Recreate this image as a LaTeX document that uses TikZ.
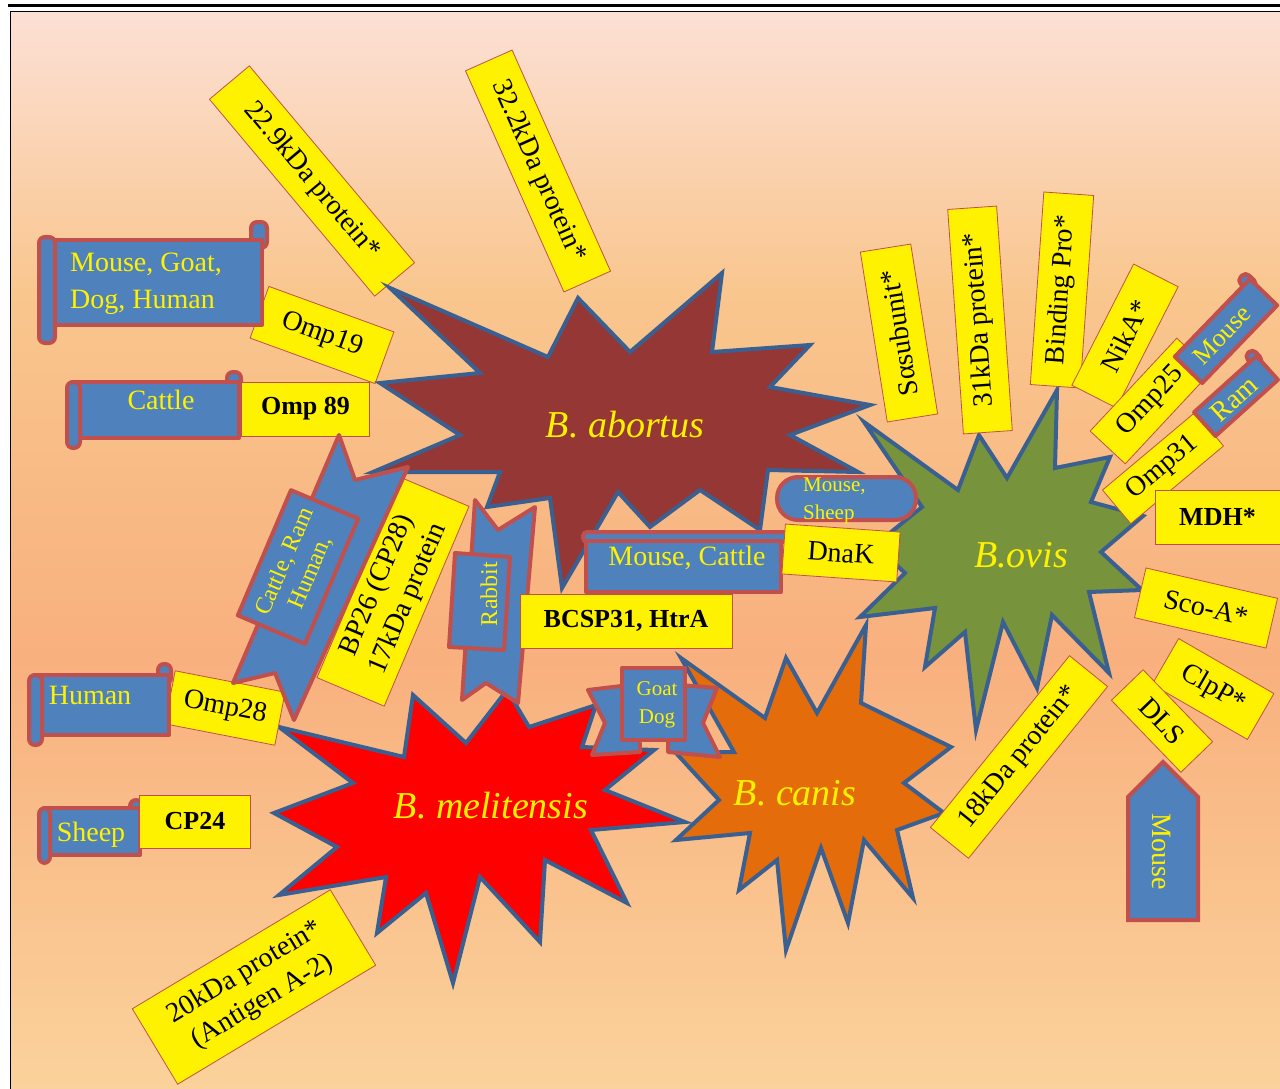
\documentclass[tikz,border=0pt]{standalone}
\usepackage{fontspec}
\setmainfont{Liberation Serif}

\definecolor{bgtop}{RGB}{252,224,213}
\definecolor{bgupper}{RGB}{249,198,142}
\definecolor{bgmid}{RGB}{248,176,126}
\definecolor{bgbot}{RGB}{251,210,155}
\definecolor{burstline}{RGB}{58,96,146}
\definecolor{abortusfill}{RGB}{149,55,53}
\definecolor{ovisfill}{RGB}{119,147,60}
\definecolor{melifill}{RGB}{255,0,0}
\definecolor{canisfill}{RGB}{228,108,10}
\definecolor{hostblue}{RGB}{79,129,189}
\definecolor{hostred}{RGB}{192,80,77}

\pgfdeclareverticalshading{bgfade}{100bp}{color(0bp)=(bgbot); color(25bp)=(bgbot); color(45bp)=(bgmid); color(62bp)=(bgupper); color(75bp)=(bgtop); color(100bp)=(bgtop)}

\tikzset{
  burst/.style={draw=burstline, line width=4pt, line join=miter, miter limit=12},
  burstlabel/.style={text=yellow, inner sep=0pt, font=\fontsize{38}{40}\selectfont\itshape},
  protein/.style={draw=hostred, line width=0.8pt, fill=yellow, inner sep=2pt, align=center, font=\fontsize{28}{34}\selectfont},
  boldprotein/.style={protein, font=\fontsize{26}{30}\selectfont\bfseries},
  host/.style={draw=hostred, line width=4pt, fill=hostblue, line join=round},
  hostlabel/.style={text=yellow, inner sep=0pt, align=left, font=\fontsize{28}{37}\selectfont},
  smallhost/.style={hostlabel, font=\fontsize{21}{28}\selectfont},
}

\begin{document}
\begin{tikzpicture}[x=1pt,y=-1pt]
\useasboundingbox (0,0) rectangle (1280,1089);
\fill[white] (0,0) rectangle (1280,1089);
\shade[shading=bgfade] (10,12) rectangle (1280,1089);
\draw[line width=3pt] (8,5.5) -- (1280,5.5);
\draw[line width=1pt] (10,12) -- (1280,12) (10,12) -- (10,1089);

% proteins above B. abortus
\node[protein, rotate=-50, minimum width=257pt, minimum height=52pt] (kda229) at (312,181) {22.9kDa protein*};
\node[protein, rotate=-66, minimum width=242pt, minimum height=51pt] (kda322) at (538,171) {32.2kDa protein*};
\node[protein, rotate=-20, minimum width=133pt, minimum height=55pt] (omp19) at (322,335) {Omp19};

% scroll Mouse, Goat, Dog, Human
\draw[host, rounded corners=6pt] (251,222) rectangle (267,248);
\draw[host] (48,240) rectangle (262,325);
\draw[host, rounded corners=6pt] (39,237) rectangle (55,343);
\node[hostlabel, anchor=west] (hmgdh) at (70,284) {Mouse, Goat,\\Dog, Human};

% the four bursts
\draw[burst, fill=canisfill] (681,658) -- (765,718) -- (786,658) -- (817,713) -- (866,625) -- (861,703)
  -- (951,747) -- (904,783) -- (944,813) -- (897,830) -- (913,898) -- (864,840) -- (848,923)
  -- (821,848) -- (786,950) -- (777,860) -- (739,890) -- (750,833) -- (676,840) -- (719,800)
  -- (676,753) -- (734,752) -- cycle;
\draw[burst, fill=melifill] (279,727) -- (404,757) -- (413,695) -- (466,743) -- (507,690) -- (529,727)
  -- (596,705) -- (582,747) -- (654,750) -- (605,790) -- (685,822) -- (591,830) -- (627,903)
  -- (545,860) -- (540,942) -- (480,877) -- (453,983) -- (426,893) -- (377,933) -- (386,877)
  -- (279,895) -- (337,847) -- (274,813) -- (353,783) -- cycle;
\draw[burst, fill=ovisfill] (864,422) -- (958,490) -- (979,435) -- (1007,478) -- (1057,390) -- (1055,468)
  -- (1110,457) -- (1091,502) -- (1143,516) -- (1101,552) -- (1142,590) -- (1089,592) -- (1109,673)
  -- (1052,615) -- (1037,688) -- (1003,622) -- (976,730) -- (965,632) -- (925,667) -- (935,608)
  -- (860,617) -- (905,573) -- (875,545) -- (922,507) -- cycle;
\draw[burst, fill=abortusfill] (380,383) -- (480,373) -- (390,288) -- (548,357) -- (578,298) -- (630,352)
  -- (722,273) -- (712,352) -- (810,345) -- (770,387) -- (870,405) -- (790,435) -- (858,472)
  -- (768,470) -- (760,530) -- (700,490) -- (650,527) -- (618,492) -- (562,588) -- (550,498)
  -- (487,507) -- (500,472) -- (373,472) -- (460,435) -- cycle;
\node[burstlabel] (abortus) at (625,425) {B. abortus};
\node[burstlabel] (ovis) at (1021,555) {B.ovis};
\node[burstlabel] (melitensis) at (491,806) {B. melitensis};
\node[burstlabel] (canis) at (795,793) {B. canis};

% left side
\draw[host, rounded corners=6pt] (227,372) rectangle (241,392);
\draw[host] (72,382) rectangle (239,438);
\draw[host, rounded corners=6pt] (67,382) rectangle (80,448);
\node[hostlabel] (hcattle) at (161,400) {Cattle};
\node[boldprotein, minimum width=128pt, minimum height=54pt] (omp89) at (305.5,409) {Omp 89};

\node[protein, rotate=-11, minimum width=112pt, minimum height=54pt] (omp28) at (225,708) {Omp28};
\draw[host, rounded corners=6pt] (158,664) rectangle (171,684);
\draw[host] (34,675) rectangle (169,735);
\draw[host, rounded corners=6pt] (29,675) rectangle (42,745);
\node[hostlabel] (hhuman) at (90,695) {Human};

\draw[host, rounded corners=6pt] (130,800) rectangle (142,816);
\draw[host] (44,808) rectangle (140,855);
\draw[host, rounded corners=6pt] (39,808) rectangle (50,863);
\node[hostlabel] (hsheep) at (91,835) {Sheep};
\node[boldprotein, minimum width=111pt, minimum height=53pt] (cp24) at (195,821.5) {CP24};

\node[protein, rotate=31, minimum width=231pt, minimum height=88pt] (kda20) at (254,987) {20kDa protein*\\(Antigen A-2)};

% ribbons between the bursts
\node[protein, rotate=67, minimum width=217pt, minimum height=73pt] (bp26) at (393,592) {BP26 (CP28)\\17kDa protein};
\draw[host] (339,435) -- (355,480) -- (408,467) -- (294,720) -- (275,673) -- (233,683) -- cycle;
\node[host, hostlabel, align=center, rotate=67, minimum width=136pt, minimum height=73pt,
  font=\fontsize{24}{28}\selectfont] (hcrh) at (298,567) {Cattle, Ram\\Human,};

\draw[host] (475,500) -- (498,530) -- (535,507) -- (518,703) -- (486,683) -- (462,700) -- cycle;
\draw[host] (455,553) -- (510,557) -- (504,650) -- (449,647) -- cycle;
\node[hostlabel, rotate=90, font=\fontsize{24}{28}\selectfont] (hrabbit) at (489,594) {Rabbit};

\node[boldprotein, minimum width=212pt, minimum height=54pt] (bcsp) at (626,621) {BCSP31, HtrA};

\draw[host] (588,690) -- (638,684) -- (640,752) -- (592,755) -- (605,723) -- cycle;
\draw[host] (717,688) -- (668,684) -- (668,752) -- (720,757) -- (703,723) -- cycle;
\draw[host] (622,668) rectangle (685,740);
\node[smallhost, align=center] (hgoatdog) at (657,705) {Goat\\Dog};

% around B. ovis
\draw[host, rounded corners=4pt] (583,532) rectangle (788,542);
\draw[host] (586,541) rectangle (781,592);
\node[hostlabel] (hmc) at (687,558) {Mouse, Cattle};
\node[protein, rotate=-4, minimum width=115pt, minimum height=50pt] (dnak) at (841,553) {DnaK};
\draw[host, rounded corners=21pt] (777,477) rectangle (916,520);
\node[smallhost, anchor=west] (hms) at (803,501) {Mouse,\\Sheep};

\node[protein, rotate=99, minimum width=172pt, minimum height=51pt] (salpha) at (899,333) {Sαsubunit*};
\node[protein, rotate=94, minimum width=225pt, minimum height=49pt] (kda31) at (980,320) {31kDa protein*};
\node[protein, rotate=86, minimum width=193pt, minimum height=50pt] (bindpro) at (1062,290) {Binding Pro*};
\node[protein, rotate=63, minimum width=136pt, minimum height=50pt] (nika) at (1125,336) {NikA*};
\node[protein, rotate=47, minimum width=127pt, minimum height=48pt] (omp25) at (1151,401) {Omp25};
\begin{scope}[shift={(1226,331)}, rotate=46]
  \draw[host, rounded corners=5pt] (44,-27) rectangle (56,-10);
  \draw[host] (-54,-19) rectangle (54,19);
\end{scope}
\node[hostlabel, rotate=46, font=\fontsize{26}{30}\selectfont] (hmouse1) at (1222,335) {Mouse};
\node[protein, rotate=40, minimum width=121pt, minimum height=44pt] (omp31) at (1163,468) {Omp31};
\begin{scope}[shift={(1236,396)}, rotate=42]
  \draw[host, rounded corners=5pt] (33,-24) rectangle (44,-8);
  \draw[host] (-42,-16) rectangle (42,16);
\end{scope}
\node[hostlabel, rotate=42] (hram) at (1234,399) {Ram};
\node[boldprotein, minimum width=125pt, minimum height=54pt] (mdh) at (1217.5,517) {MDH*};
\node[protein, rotate=-13, minimum width=135pt, minimum height=51pt] (scoa) at (1206,608) {Sco-A*};
\node[protein, rotate=-30, minimum width=110pt, minimum height=53pt] (clpp) at (1213,689) {ClpP*};
\node[protein, rotate=-46, minimum width=100pt, minimum height=44pt] (dls) at (1162,721) {DLS};
\draw[host, line join=miter] (1163,762) -- (1198,797) -- (1198,920) -- (1128,920) -- (1128,797) -- cycle;
\node[hostlabel, rotate=-90] (hmouse2) at (1162,852) {Mouse};
\node[protein, rotate=51, minimum width=221pt, minimum height=49pt] (kda18) at (1019,757) {18kDa protein*};
\end{tikzpicture}
\end{document}
